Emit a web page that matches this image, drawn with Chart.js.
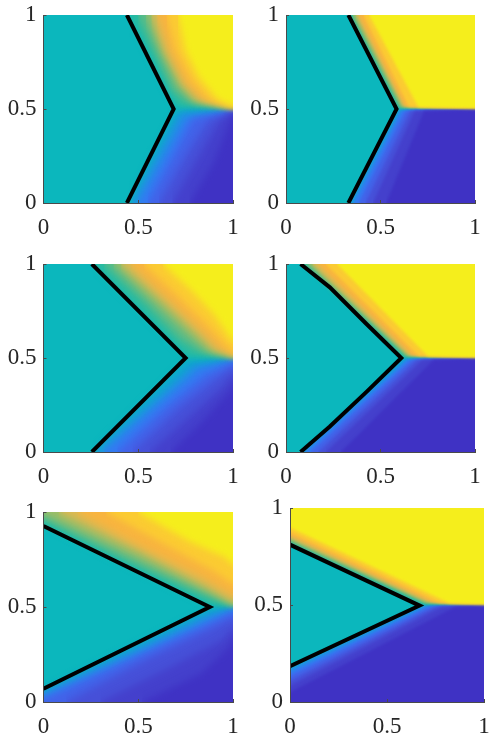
<!DOCTYPE html>
<html><head><meta charset="utf-8">
<script src="https://cdn.jsdelivr.net/npm/chart.js@4"></script>
<style>html,body{margin:0;padding:0;background:#fff;width:498px;height:747px;overflow:hidden}
canvas{position:absolute}</style></head><body>
<script>
const tickLabels = {0:'0',0.5:'0.5',1:'1'};
const teal = '#0bb7bd';
const upperColors = ['#2bbb9f','#5dbc85','#9cbd66','#dcb850','#f8b43f','#fbcb32','#f5ee1c'];
const lowerColors = ['#10a4cf','#2090e4','#3478f2','#4262e8','#4650d8','#4440cc','#3f32c4'];

// black decision boundaries [x,y]
const line1 = [[.44,1],[.687,.5],[.44,0]];
const line2 = [[.33,1],[.585,.5],[.33,0]];
const line3 = [[.255,1],[.75,.5],[.255,0]];
const line4 = [[.077,1],[.232,.876],[.426,.681],[.61,.5],[.426,.32],[.232,.136],[.077,0]];
const line5 = [[0,.926],[.877,.5],[0,.07]];
const line6 = [[0,.811],[.668,.497],[0,.184]];

// level contours: x,y pairs, last number = y where it meets the right edge
const upper1 = [[.45,1,.70,.51,.505],[.50,1,.59,.80,.68,.60,.76,.535,.505],[.54,1,.62,.80,.71,.62,.79,.54,.505],[.57,1,.64,.80,.73,.63,.81,.545,.505],[.60,1,.67,.80,.75,.64,.84,.55,.51],[.65,1,.70,.81,.78,.655,.87,.55,.51],[.71,1,.75,.81,.82,.67,.92,.55,.515]];
const lower1 = [[.45,0,.70,.49,.495],[.47,0,.725,.48,.49],[.50,0,.64,.25,.75,.45,.49],[.55,0,.69,.26,.79,.45,.485],[.61,0,.76,.27,.87,.44,.48],[.68,0,.82,.25,.93,.44,.48],[.77,0,.90,.22,.985,.44,.47]];
const upper2 = [[.335,1,.59,.505,.502],[.345,1,.60,.508,.502],[.355,1,.61,.512,.502],[.37,1,.62,.515,.502],[.385,1,.63,.515,.502],[.41,1,.65,.512,.502],[.44,1,.70,.51,.502]];
const lower2 = [[.335,0,.59,.495,.497],[.345,0,.60,.493,.497],[.36,0,.61,.49,.497],[.385,0,.63,.49,.497],[.42,0,.655,.49,.497],[.46,0,.68,.49,.497],[.53,0,.73,.49,.497]];
const upper3 = [[.26,1,.76,.505,.505],[.32,1,.53,.80,.72,.60,.83,.53,.505],[.37,1,.58,.80,.77,.62,.87,.535,.505],[.41,1,.62,.81,.80,.64,.90,.54,.51],[.46,1,.65,.82,.83,.65,.93,.55,.515],[.53,1,.71,.83,.86,.68,.97,.56,.53],[.63,1,.79,.85,.90,.73,.99,.60,.59]];
const lower3 = [[.26,0,.76,.49,.495],[.285,0,.55,.24,.79,.46,.49],[.32,0,.59,.24,.82,.44,.485],[.39,0,.65,.24,.86,.41,.475],[.47,0,.72,.24,.90,.38,.45],[.56,0,.78,.20,.95,.35,.41],[.67,0,.83,.155,.99,.33,.36]];
const upper4 = [[.08,1,.615,.505,.502],[.10,1,.63,.51,.502],[.12,1,.64,.513,.502],[.14,1,.65,.515,.502],[.17,1,.67,.515,.502],[.21,1,.70,.512,.502],[.27,1,.75,.51,.502]];
const lower4 = [[.08,0,.62,.495,.497],[.09,0,.63,.493,.497],[.105,0,.645,.49,.497],[.13,0,.665,.49,.497],[.17,0,.69,.49,.497],[.21,0,.72,.49,.497],[.29,0,.78,.49,.497]];
const upper5 = [[0,.935,.88,.51,.505],[0,.96,.475,.73,.83,.57,.505],[0,.99,.50,.755,.85,.585,.51],[.08,1,.53,.78,.87,.60,.525],[.18,1,.55,.80,.83,.66,.56],[.33,1,.66,.82,.90,.69,.62],[.50,1,.78,.84,.96,.76,.72]];
const lower5 = [[0,.06,.88,.49,.495],[0,.045,.475,.27,.88,.465,.49],[0,.03,.49,.25,.87,.43,.485],[0,.012,.52,.25,.87,.41,.47],[.12,0,.56,.23,.88,.38,.44],[.30,0,.68,.19,.95,.33,.39],[.52,0,.83,.15,.97,.28,.33]];
const upper6 = [[0,.815,.67,.505,.502],[0,.825,.69,.51,.502],[0,.835,.70,.513,.502],[0,.845,.71,.515,.502],[0,.86,.735,.515,.502],[0,.875,.77,.512,.502],[0,.90,.82,.51,.502]];
const lower6 = [[0,.18,.67,.495,.497],[0,.17,.68,.493,.497],[0,.155,.70,.49,.497],[0,.135,.72,.49,.497],[0,.11,.75,.49,.497],[0,.085,.78,.49,.497],[0,.05,.85,.49,.497]];

const panels = [
 {line:line1,upper:upper1,lower:lower1,l:43.5,t:15,w:189,h:188,blur:3.5},
 {line:line2,upper:upper2,lower:lower2,l:286,t:15,w:189,h:188,blur:1.6},
 {line:line3,upper:upper3,lower:lower3,l:43.5,t:264,w:189,h:188,blur:3.5},
 {line:line4,upper:upper4,lower:lower4,l:286,t:264,w:189,h:188,blur:1.6},
 {line:line5,upper:upper5,lower:lower5,l:43.5,t:512,w:189,h:190,blur:3.5},
 {line:line6,upper:upper6,lower:lower6,l:290,t:508,w:194,h:194,blur:1.6},
];
const LEFT=43, TOP=15, RIGHT=13, BOTTOM=44;
const OVER=1.2, UNDER=-0.2, EDGE_L=-0.1, EDGE_R=1.1; // fill reaches past the frame so blur stays even at the edges

function contour(c){
  const pts=[];
  if(c[0]===0) pts.push({x:EDGE_L,y:c[1]});
  for(let i=0;i+1<c.length-1;i+=2) pts.push({x:c[i],y:c[i+1]});
  const end=c[c.length-1];
  pts.push({x:1,y:end},{x:EDGE_R,y:end});
  return pts;
}

panels.forEach(p=>{
  const cv=document.createElement('canvas');
  const fx=p.l-Math.floor(p.l);
  const W=Math.ceil(p.w+LEFT+RIGHT+fx), H=p.h+TOP+BOTTOM;
  const ll=Math.floor(p.l)-LEFT;
  cv.style.left=ll+'px'; cv.style.top=(p.t-TOP)+'px';
  cv.style.width=W+'px'; cv.style.height=H+'px';
  cv.width=W; cv.height=H;
  document.body.appendChild(cv);
  const ds=[];
  ds.push({data:p.line.map(a=>({x:a[0],y:a[1]})),borderColor:'#000',borderWidth:4,pointRadius:0,showLine:true,fill:false,order:0,borderCapStyle:'butt',borderJoinStyle:'miter'});
  p.upper.forEach((c,i)=>ds.push({data:contour(c),backgroundColor:upperColors[i],borderWidth:0,pointRadius:0,showLine:true,fill:{value:OVER},order:10-i}));
  p.lower.forEach((c,i)=>ds.push({data:contour(c),backgroundColor:lowerColors[i],borderWidth:0,pointRadius:0,showLine:true,fill:{value:UNDER},order:10-i}));
  ds.push({data:[{x:0,y:1},{x:1,y:1}],backgroundColor:teal,borderWidth:0,pointRadius:0,showLine:true,fill:'start',order:20});
  const tealIdx=ds.length-1;
  const axis=(extra)=>Object.assign({type:'linear',min:0,max:1,
    border:{display:true,color:'#4a4a4a',width:1,z:2},
    grid:{drawOnChartArea:false,drawTicks:true,tickLength:-3,color:'#4a4a4a',z:2},
  },extra);
  const fnt={family:'"Liberation Serif"',size:23};
  const blurPlugin={id:'softBands',
    beforeDatasetsDraw(c){c.ctx.filter='none';},
    afterDatasetDraw(c,a){if(a.index===tealIdx)c.ctx.filter='blur('+p.blur+'px)';},
    beforeDatasetDraw(c,a){if(a.index===0)c.ctx.filter='none';},
    afterDatasetsDraw(c){c.ctx.filter='none';}};
  new Chart(cv,{type:'scatter',data:{datasets:ds},plugins:[blurPlugin],options:{
    responsive:false,animation:false,devicePixelRatio:1,
    layout:{padding:{left:0,top:TOP,right:RIGHT,bottom:0}},
    plugins:{legend:{display:false},tooltip:{enabled:false}},
    scales:{
      x:axis({position:'bottom',afterFit:s=>{s.height=BOTTOM;s.paddingLeft=0;s.paddingRight=0;},
        ticks:{stepSize:.5,autoSkip:false,maxRotation:0,padding:14,color:'#262626',font:fnt,callback:v=>tickLabels[v]}}),
      y:axis({position:'left',afterFit:s=>{s.width=LEFT+fx;s.paddingTop=0;s.paddingBottom=0;},
        ticks:{stepSize:.5,autoSkip:false,padding:10,color:'#262626',font:fnt,callback:v=>tickLabels[v]}}),
    }}});
});
</script></body></html>
